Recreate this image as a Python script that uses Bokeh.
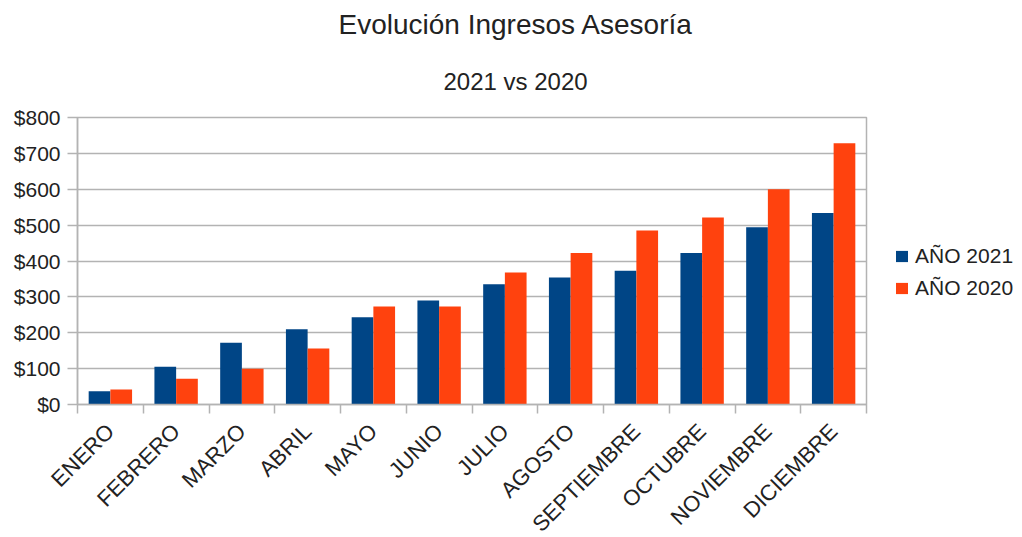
import numpy as np
from bokeh.plotting import figure
from bokeh.models import (ColumnDataSource, FixedTicker, NumeralTickFormatter, Legend,
                          LegendItem, Title, Range1d)
from bokeh.embed import file_html
from bokeh.resources import INLINE

months = ["ENERO", "FEBRERO", "MARZO", "ABRIL", "MAYO", "JUNIO", "JULIO", "AGOSTO",
          "SEPTIEMBRE", "OCTUBRE", "NOVIEMBRE", "DICIEMBRE"]
y2021 = [37, 105, 172, 210, 243, 290, 335, 354, 373, 422, 494, 534]
y2020 = [42, 72, 100, 156, 273, 273, 368, 422, 485, 521, 600, 728]
series_names = ["AÑO 2021", "AÑO 2020"]
colors = ["#004586", "#ff420e"]
y_ticks = [0, 100, 200, 300, 400, 500, 600, 700, 800]

FONT = "Liberation Sans"
GRID = "#b3b3b3"

idx = np.arange(len(months))
centers = idx + 0.5
src = ColumnDataSource(dict(x21=centers - 0.165, x20=centers + 0.165, y21=y2021, y20=y2020))

p = figure(frame_width=789, frame_height=287, output_backend="svg", toolbar_location=None,
           x_range=Range1d(0, len(months)), y_range=Range1d(0, 800),
           min_border_left=77, min_border_right=40, min_border_top=117, min_border_bottom=110,
           title="Evolución Ingresos Asesoría")

r1 = p.vbar(x="x21", top="y21", width=0.33, source=src, fill_color=colors[0], line_color=None)
r2 = p.vbar(x="x20", top="y20", width=0.33, source=src, fill_color=colors[1], line_color=None)

p.title.text_font = FONT
p.title.text_font_size = "28px"
p.title.text_font_style = "normal"
p.title.text_color = "#222222"
p.title.align = "left"
p.title.offset = 261
p.title.standoff = 8
p.add_layout(Title(text="2021 vs 2020", text_font=FONT, text_font_size="24px",
                   text_font_style="normal", text_color="#222222", align="left",
                   offset=366, standoff=45), "above")

# axes
p.xaxis.ticker = FixedTicker(ticks=list(centers), minor_ticks=list(range(len(months) + 1)))
p.xaxis.major_label_overrides = {float(c): m for c, m in zip(centers, months)}
p.xaxis.major_label_orientation = np.pi / 4
p.xaxis.major_tick_out = 0
p.xaxis.major_tick_in = 0
p.xaxis.minor_tick_out = 9
p.xaxis.minor_tick_in = 0
p.xaxis.major_label_standoff = 14

p.yaxis.ticker = FixedTicker(ticks=y_ticks, minor_ticks=[])
p.yaxis.formatter = NumeralTickFormatter(format="$0")
p.yaxis.major_tick_out = 10
p.yaxis.major_tick_in = 0
p.yaxis.minor_tick_out = 0
p.yaxis.minor_tick_in = 0
p.yaxis.major_label_standoff = 7

for ax in (p.xaxis[0], p.yaxis[0]):
    ax.axis_line_color = GRID
    ax.axis_line_width = 1.5
    ax.major_tick_line_color = GRID
    ax.minor_tick_line_color = GRID
    ax.major_tick_line_width = 1.5
    ax.minor_tick_line_width = 1.5
    ax.major_label_text_font = FONT
    ax.major_label_text_color = "#222222"
p.yaxis.major_label_text_font_size = "21px"
p.xaxis.major_label_text_font_size = "22px"

p.xgrid.visible = False
p.ygrid.ticker = FixedTicker(ticks=y_ticks)
p.ygrid.grid_line_color = GRID
p.ygrid.grid_line_width = 1.5
p.outline_line_color = GRID
p.outline_line_width = 1.5

legend = Legend(items=[LegendItem(label=series_names[0], renderers=[r1]),
                       LegendItem(label=series_names[1], renderers=[r2])],
                location=(28, 104))
legend.label_text_font = FONT
legend.label_text_font_size = "21px"
legend.label_text_color = "#222222"
legend.glyph_width = 15
legend.glyph_height = 14
legend.label_height = 24
legend.spacing = 8
legend.label_standoff = 6
legend.padding = 0
legend.margin = 0
legend.border_line_color = None
legend.background_fill_alpha = 0
p.add_layout(legend, "right")

open("out.html", "w").write(file_html(p, INLINE))
